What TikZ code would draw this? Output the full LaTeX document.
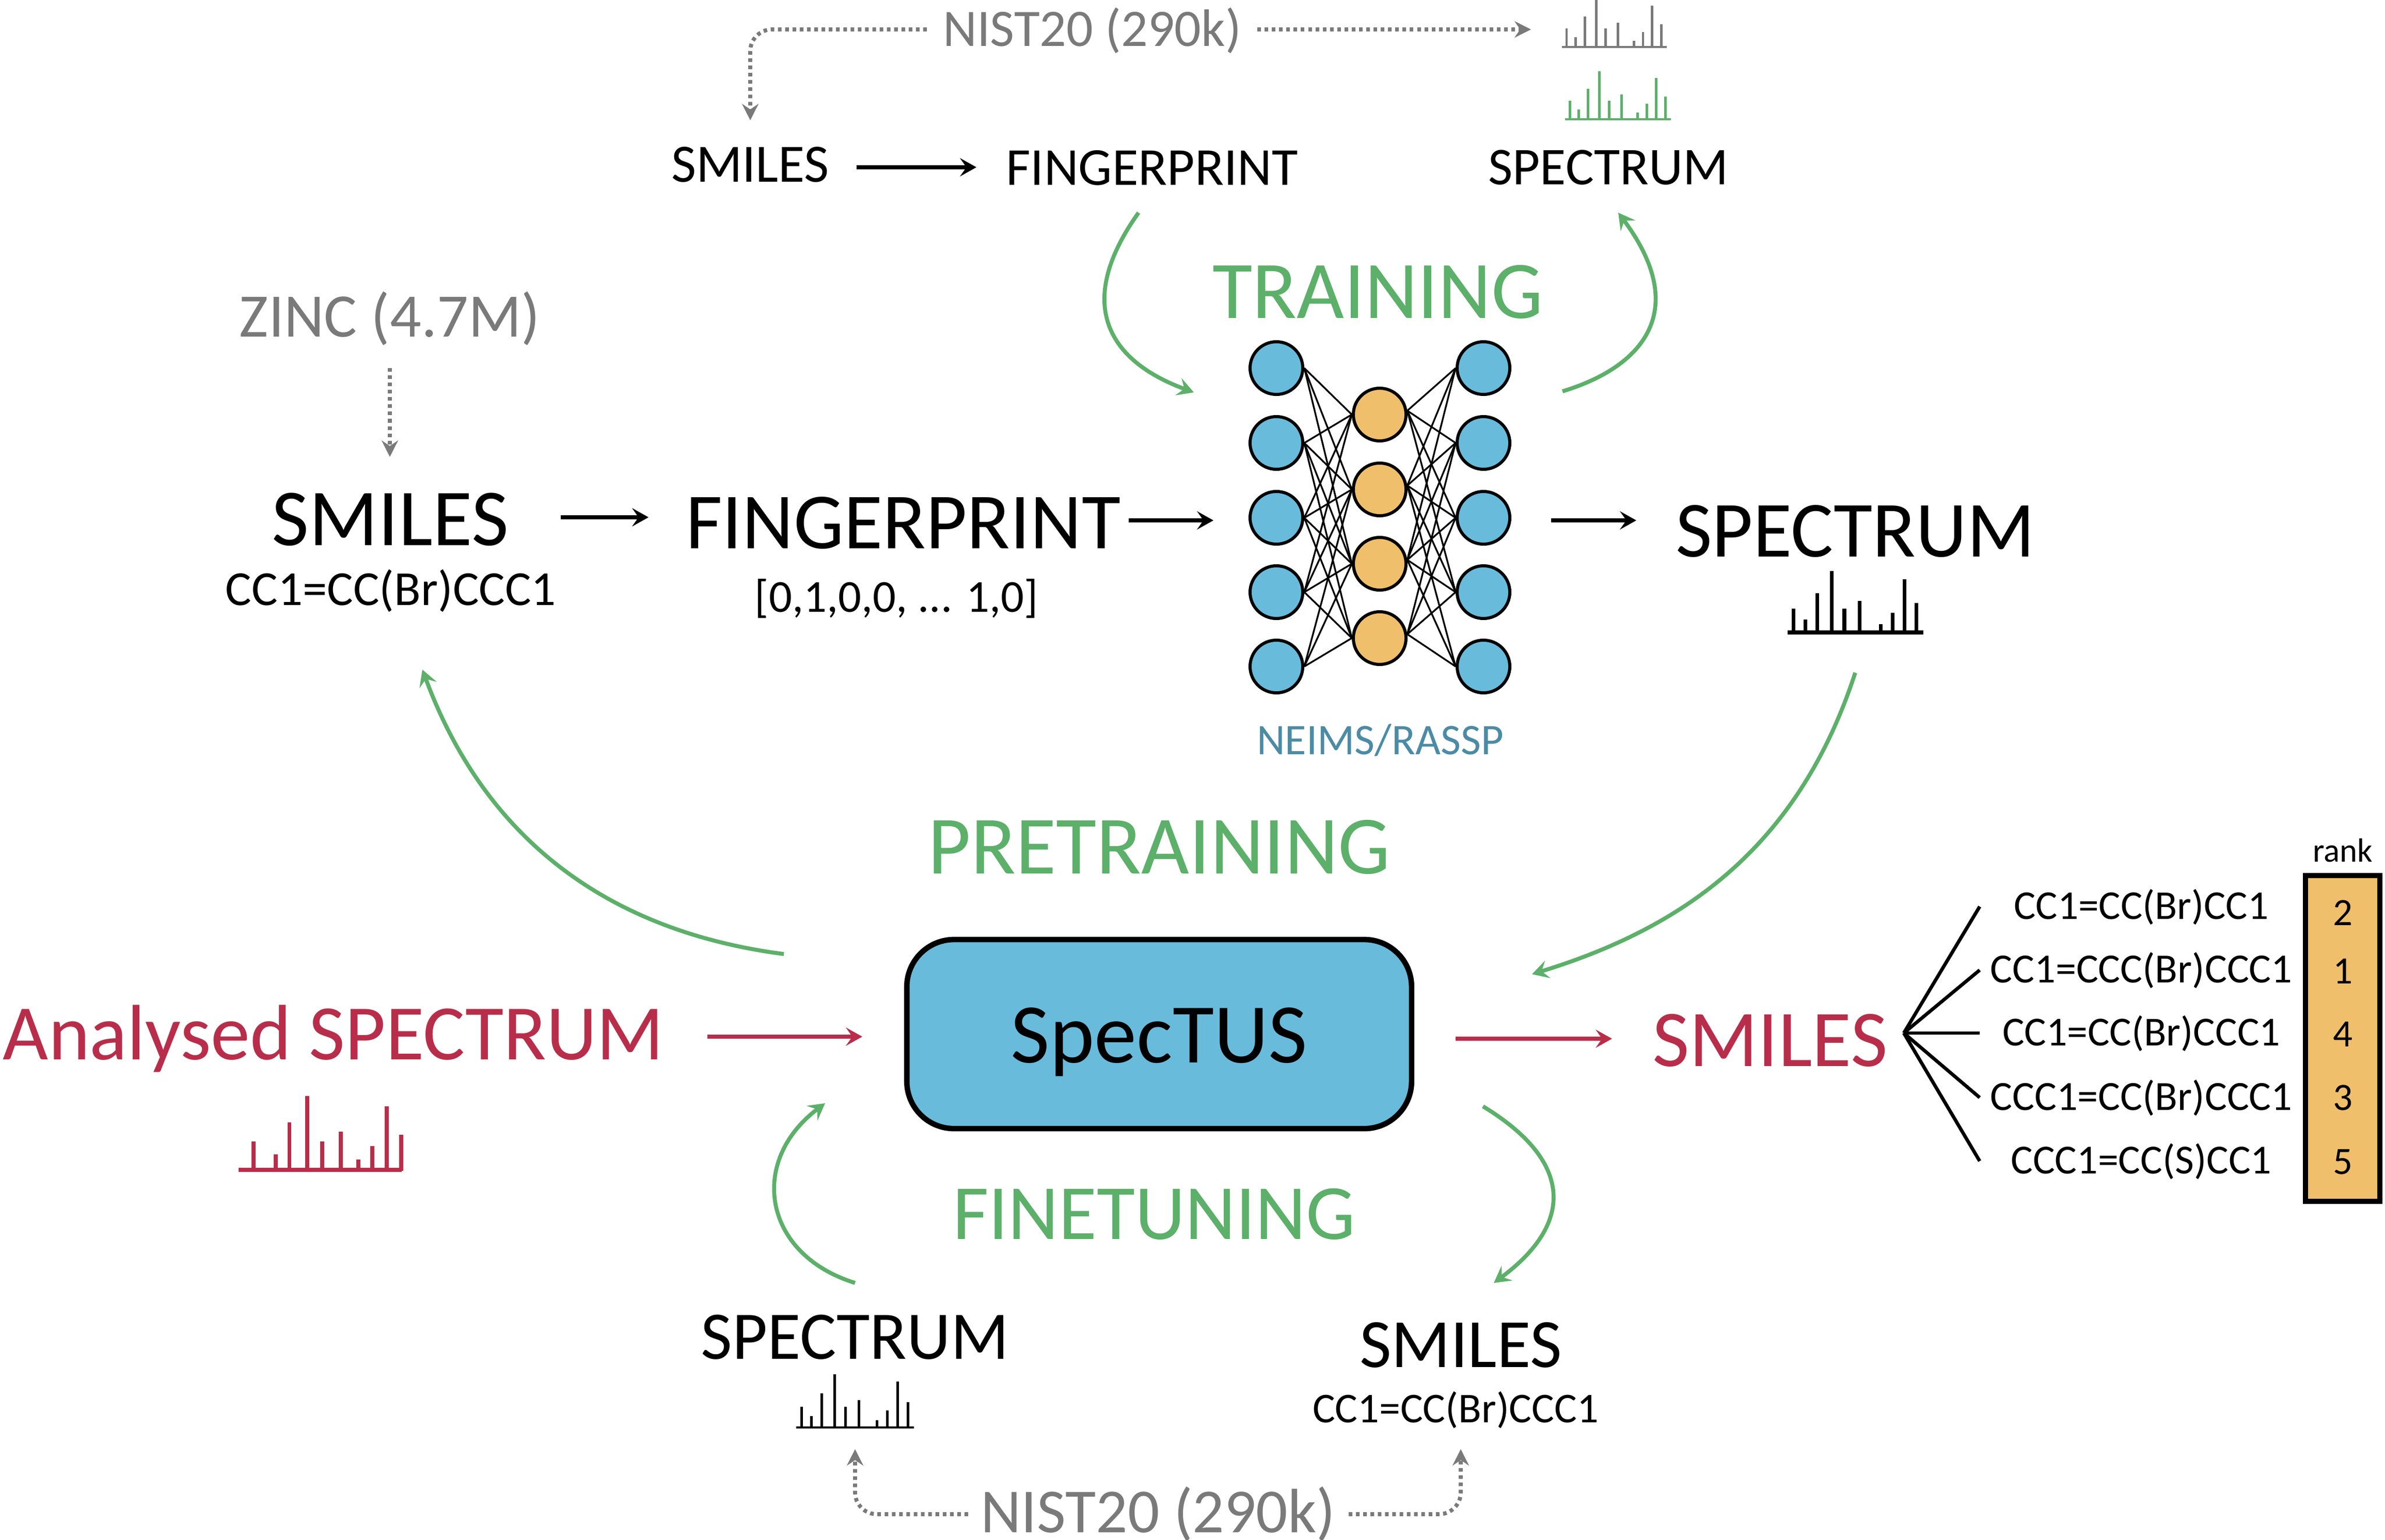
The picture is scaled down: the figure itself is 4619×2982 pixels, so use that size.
\documentclass[tikz,border=0pt]{standalone}
\usepackage{graphicx}
\usepackage{fontspec}
\setmainfont{Carlito}
\usetikzlibrary{arrows.meta,calc}
\definecolor{cgreen}{HTML}{5CB069}
\definecolor{cgray}{HTML}{7A7A7A}
\definecolor{cred}{HTML}{B82E4A}
\definecolor{cblue}{HTML}{69BBDB}
\definecolor{corange}{HTML}{EFBF6C}
\definecolor{cteal}{HTML}{4C8BA5}
\newdimen\pxu \pxu=0.01cm
\newcommand{\fitw}[2]{\resizebox{#1\pxu}{!}{\fontsize{20}{24}\selectfont #2}}
\def\barsA{0.044/.175,0.131/.095,0.218/.289,0.326/.452,0.418/.175,0.532/.232,0.687/.061,0.773/.144,0.861/.392,0.949/.217}
\def\barsB{0.091/.174,0.227/.095,0.312/.29,0.42/.452,0.512/.174,0.626/.233,0.734/.062,0.82/.145,0.909/.39,0.997/.215}
% x-left, baseline, width, colour, line width, bar list
\newcommand{\specplot}[6]{%
  \draw[#4,line width=#5] (#1,#2) -- ({#1+#3},#2);
  \foreach \a/\h in #6 {\draw[#4,line width=#5] ({#1+#3*\a},{#2+2}) -- ({#1+#3*\a},{#2-#3*\h});}
}
\tikzset{
  lbl/.style={anchor=base,inner sep=0pt,outer sep=0pt},
  arr/.style={line width=2.2pt,-{Stealth[length=9pt,width=10pt,inset=3.5pt]}},
  garr/.style={arr,cgreen,line width=2.2pt},
  rarr/.style={arr,cred},
  gdot/.style={cgray,line width=2.2pt,dash pattern=on 2pt off 2pt,-{Stealth[length=9pt,width=9pt,inset=3pt]},rounded corners=12pt},
  bluen/.style={circle,draw=black,line width=1.7pt,fill=cblue,minimum size=1.02cm,inner sep=0pt},
  orangen/.style={circle,draw=black,line width=1.7pt,fill=corange,minimum size=1.02cm,inner sep=0pt},
  wire/.style={black,line width=0.95pt},
  fan/.style={black,line width=1.9pt},
}
\begin{document}
\begin{tikzpicture}[x=0.01cm,y=-0.01cm]
\useasboundingbox (0,0) rectangle (4619,2982);
% top block
\node[lbl,cgray] (nT) at (2115,90) {\fitw{578}{NIST20 (290k)}};
\node[lbl] (sS) at (1453,353) {\fitw{306}{SMILES}};
\node[lbl] (sF) at (2231,358) {\fitw{565}{FINGERPRINT}};
\node[lbl] (sP) at (3115,358) {\fitw{465}{SPECTRUM}};
\node[lbl,cgreen] (train) at (2668,616) {\fitw{640}{TRAINING}};
\coordinate (gs) at (3132,91);
\specplot{3025}{91}{203}{cgray}{1.4pt}{\barsA}
\specplot{3031}{231}{205}{cgreen}{1.4pt}{\barsA}
% left block
\node[lbl,cgray] (zinc) at (755,652) {\fitw{582}{ZINC (4.7M)}};
\node[lbl] (bS) at (756,1056) {\fitw{458}{SMILES}};
\node[lbl] (bC) at (757,1172) {\fitw{640}{CC1=CC(Br)CCC1}};
\node[lbl] (bF) at (1749,1062) {\fitw{842}{FINGERPRINT}};
\node[lbl] (bV) at (1736,1185) {\fitw{548}{[0,1,0,0, ... 1,0]}};
% network
\foreach \i/\y in {1/713,2/858,3/1003,4/1147,5/1291} {
  \node[bluen] (b\i) at (2472,\y) {};
  \node[bluen] (r\i) at (2873,\y) {};
}
\foreach \i/\y in {1/803,2/948,3/1092,4/1236} {
  \node[orangen] (o\i) at (2672,\y) {};
}
\foreach \a/\b in {1/1,1/2,1/3,2/1,2/2,2/3,2/4,3/1,3/2,3/3,3/4,4/1,4/2,4/3,4/4,5/2,5/3,5/4} {
  \draw[wire] (b\a.east) -- (o\b.west);
}
\foreach \a/\b in {1/1,2/1,3/1,1/2,2/2,3/2,4/2,1/3,2/3,3/3,4/3,2/4,3/4,4/4,5/4,5/3,5/2,4/1} {
  \draw[wire] (o\b.8) -- (r\a.west);
}
\node[lbl,cteal] (neims) at (2673,1461) {\fitw{478}{NEIMS/RASSP}};
\node[lbl] (bP) at (3593,1078) {\fitw{696}{SPECTRUM}};
\specplot{3462}{1225}{263}{black}{2pt}{\barsA}
% centre
\node[lbl,cgreen] (pre) at (2245,1692) {\fitw{895}{PRETRAINING}};
\node[draw=black,line width=3pt,fill=cblue,rounded corners=26pt,minimum width=9.77cm,minimum height=3.66cm,inner sep=0pt] (st) at (2245,2003) {};
\node[lbl] (stT) at (2245,2058) {\fitw{574}{SpecTUS}};
\node[lbl,cred] (an) at (646,2052) {\fitw{1280}{Analysed SPECTRUM}};
\specplot{462}{2266}{316}{cred}{2.2pt}{\barsB}
\node[lbl,cred] (sR) at (3428,2065) {\fitw{456}{SMILES}};
% fan list
\node[lbl] (t1) at (4147,1780) {\fitw{493}{CC1=CC(Br)CC1}};
\node[lbl] (t2) at (4147,1903) {\fitw{585}{CC1=CCC(Br)CCC1}};
\node[lbl] (t3) at (4147,2025) {\fitw{538}{CC1=CC(Br)CCC1}};
\node[lbl] (t4) at (4147,2150) {\fitw{585}{CCC1=CC(Br)CCC1}};
\node[lbl] (t5) at (4147,2273) {\fitw{505}{CCC1=CC(S)CC1}};
\node[lbl] (rk) at (4537,1669) {\fitw{116}{rank}};
\node[draw=black,line width=3pt,fill=corange,minimum width=1.44cm,minimum height=6.31cm,inner sep=0pt] (rbox) at (4537,2011.5) {};
\foreach \n/\v/\y in {a/2/1792,b/1/1905,c/4/2027,d/3/2150,e/5/2274} {
  \node[lbl] (n\n) at (4537,\y) {\fitw{38}{\v}};
}
\foreach \i in {1,...,5} {
  \draw[fan] ([shift={(259,-64)}]sR.base) -- ([shift={(-313,-24)}]t\i.base);
}
% bottom
\node[lbl,cgreen] (fine) at (2235,2400) {\fitw{780}{FINETUNING}};
\node[lbl] (bbP) at (1656,2632) {\fitw{596}{SPECTRUM}};
\specplot{1542}{2765}{228}{black}{1.4pt}{\barsA}
\node[lbl] (bbS) at (2829,2648) {\fitw{392}{SMILES}};
\node[lbl] (bbC) at (2819,2755) {\fitw{554}{CC1=CC(Br)CCC1}};
\node[lbl,cgray] (nB) at (2243,2968) {\fitw{687}{NIST20 (290k)}};
% black arrows
\draw[arr] ([shift={(206,-29)}]sS.base) -- ([shift={(-340,-34)}]sF.base);
\draw[arr] ([shift={(330,-54)}]bS.base) -- ([shift={(-493,-60)}]bF.base);
\draw[arr] ([shift={(437,-54)}]bF.base) -- ([shift={(-122,5)}]b3.center);
\draw[arr] ([shift={(131,5)}]r3.center) -- ([shift={(-424,-70)}]bP.base);
% gray dotted arrows
\draw[gdot] ([shift={(-320,-33)}]nT.base) -- ([shift={(0,-296)}]sS.base) -- ([shift={(0,-120)}]sS.base);
\draw[gdot] ([shift={(320,-33)}]nT.base) -- ([shift={(-167,-34)}]gs);
\draw[gdot] ([shift={(0,61)}]zinc.base) -- ([shift={(-1,-171)}]bS.base);
\draw[gdot] ([shift={(-368,-35)}]nB.base) -- ([shift={(-587,-35)}]nB.base) -- ([shift={(0,175)}]bbP.base);
\draw[gdot] ([shift={(369,-35)}]nB.base) -- ([shift={(586,-35)}]nB.base) -- ([shift={(10,52)}]bbC.base);
% green arrows
\draw[garr] ([shift={(-26,54)}]sF.base) .. controls (2078,590) and (2148,700) .. ([shift={(-160,47)}]b1.center);
\draw[garr] ([shift={(153,45)}]r1.center) .. controls (3184,710) and (3274,600) .. ([shift={(19,54)}]sP.base);
\draw[garr] ([shift={(-727,-155)}]st.center) .. controls (1150,1800) and (930,1600) .. ([shift={(61,125)}]bC.base);
\draw[garr] ([shift={(0,225)}]bP.base) .. controls (3480,1650) and (3250,1800) .. ([shift={(722,-116)}]st.center);
\draw[garr] ([shift={(0,-147)}]bbP.base) .. controls (1478,2430) and (1448,2250) .. ([shift={(-647,134)}]st.center);
\draw[garr] ([shift={(627,140)}]st.center) .. controls (3048,2250) and (3048,2370) .. ([shift={(64,-163)}]bbS.base);
% red arrows
\draw[rarr] ([shift={(724,-44)}]an.base) -- ([shift={(-575,5)}]st.center);
\draw[rarr] ([shift={(574,9)}]st.center) -- ([shift={(-306,-53)}]sR.base);
\end{tikzpicture}
\end{document}
